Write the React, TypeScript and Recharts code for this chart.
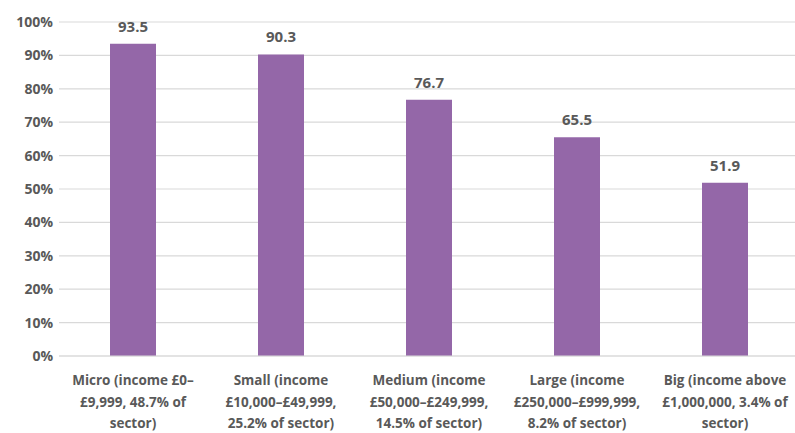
import { BarChart, Bar, XAxis, YAxis, CartesianGrid, LabelList } from 'recharts';

// categorias de tamanho (cada uma quebrada em 3 linhas como no original)
const categories = ['Micro', 'Small', 'Medium', 'Large', 'Big'];
const tickLines = [
  ['Micro (income £0–', '£9,999, 48.7% of', 'sector)'],
  ['Small (income', '£10,000–£49,999,', '25.2% of sector)'],
  ['Medium (income', '£50,000–£249,999,', '14.5% of sector)'],
  ['Large (income', '£250,000–£999,999,', '8.2% of sector)'],
  ['Big (income above', '£1,000,000, 3.4% of', 'sector)'],
];
const values = [93.5, 90.3, 76.7, 65.5, 51.9];
const yTicks = [0, 10, 20, 30, 40, 50, 60, 70, 80, 90, 100];

const FONT = '"Open Sans", sans-serif';
const TEXT = '#595959';

const data = categories.map((c, i) => ({ name: c, value: values[i] }));

function CatTick({ x, y, payload }: any) {
  const lines = tickLines[categories.indexOf(payload.value)] ?? [];
  return (
    <text x={x} y={y} textAnchor="middle" fill={TEXT} fontFamily={FONT} fontSize={13.5} fontWeight={700}>
      {lines.map((l, i) => (
        <tspan key={i} x={x} dy={i === 0 ? 21 : 21.5}>
          {l}
        </tspan>
      ))}
    </text>
  );
}

export default function App() {
  return (
    <div style={{ position: 'absolute', left: 0, top: 0, width: 795, height: 433, overflow: 'hidden', background: '#fff' }}>
      <BarChart
        width={799}
        height={433}
        data={data}
        margin={{ top: 22, right: 0, bottom: 0, left: 0 }}
        barCategoryGap={0}
      >
        <CartesianGrid vertical={false} stroke="#d9d9d9" strokeWidth={1.2} />
        <XAxis
          dataKey="name"
          tick={<CatTick />}
          tickLine={false}
          axisLine={{ stroke: '#d9d9d9', strokeWidth: 1.2 }}
          height={77}
          interval={0}
        />
        <YAxis
          domain={[0, 100]}
          ticks={yTicks}
          tickFormatter={(v: number) => `${v}%`}
          tickLine={false}
          axisLine={false}
          width={59}
          tickSize={4}
          tick={{ fill: TEXT, fontFamily: FONT, fontSize: 14, fontWeight: 700 }}
        />
        <Bar dataKey="value" fill="#9467a8" barSize={46} isAnimationActive={false}>
          <LabelList
            dataKey="value"
            position="top"
            offset={12}
            fill={TEXT}
            fontFamily={FONT}
            fontSize={15}
            fontWeight={700}
          />
        </Bar>
      </BarChart>
    </div>
  );
}
